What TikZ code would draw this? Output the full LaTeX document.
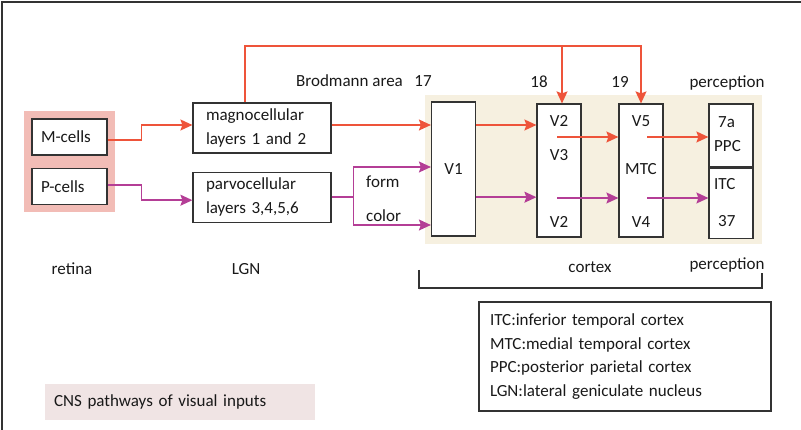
\documentclass[tikz,border=0pt]{standalone}
\usepackage{fontspec}
\setmainfont{Carlito}
\usetikzlibrary{arrows.meta,positioning,fit,backgrounds}
\definecolor{magnored}{RGB}{238,84,58}
\definecolor{parvopurple}{RGB}{180,62,150}
\definecolor{retinapink}{RGB}{242,188,182}
\definecolor{cortexbeige}{RGB}{246,240,224}
\definecolor{captionpink}{RGB}{240,228,228}
\definecolor{boxgray}{RGB}{51,51,51}

\begin{document}
\begin{tikzpicture}[
    x=1pt, y=-1pt,
    every node/.style={font=\fontsize{17}{20}\selectfont, text=black!90},
    node distance=12pt,
    cellbox/.style={rectangle,draw=boxgray,line width=1.2pt,fill=white,
      text width=57pt,inner xsep=9pt,minimum height=36pt,align=left},
    lgnbox/.style={rectangle,draw=boxgray,line width=1.2pt,fill=white,
      text width=112pt,inner xsep=13pt,minimum height=50pt,align=left,
      font=\fontsize{17}{24}\selectfont},
    areabox/.style={rectangle,draw=boxgray,line width=1.2pt,fill=white,
      minimum width=44pt,inner sep=0pt},
    tag/.style={inner sep=0pt,anchor=base},
    lefttag/.style={inner sep=0pt,anchor=base west},
    magline/.style={draw=magnored,line width=1.5pt},
    parvline/.style={draw=parvopurple,line width=1.5pt},
    magarrow/.style={magline,-{Stealth[length=12pt,width=11pt,inset=2pt]}},
    parvarrow/.style={parvline,-{Stealth[length=12pt,width=11pt,inset=2pt]}}
  ]
    \useasboundingbox (0,0) rectangle (801,430);
    \draw[boxgray,line width=1.2pt] (2,430) -- (2,2) -- (801,2);
    \fill[cortexbeige] (425,95) rectangle (762,244);

    % retina and LGN
    \node[cellbox] (mcells) at (69.5,137) {M-cells};
    \node[cellbox,below=12pt of mcells] (pcells) {P-cells};
    \begin{scope}[on background layer]
      \node[fill=retinapink,inner sep=7pt,fit=(mcells)(pcells)] (retinabg) {};
    \end{scope}
    \node[lgnbox] (magno) at (262,128) {magnocellular\\layers 1 and 2};
    \node[lgnbox,below=18pt of magno] (parvo) {parvocellular\\layers 3,4,5,6};

    % cortex areas
    \node[areabox,minimum height=134pt] (v1) at (453.5,169) {V1};
    \node[areabox,minimum height=133pt] (v2box) at (559,170.5) {};
    \node[areabox,minimum height=133pt] (v5box) at (641,170.5) {};
    \node[areabox,minimum height=63pt] (ppc) at (731,135.5) {};
    \node[areabox,minimum height=70pt,below=0pt of ppc] (itc) {};

    \node[tag] (v2top) at (559,127) {V2};
    \node[tag] (v3) at (559,161) {V3};
    \node[tag] (v2low) at (559,228) {V2};
    \node[tag] (v5) at (641,127) {V5};
    \node[tag] (mtc) at (641,175) {MTC};
    \node[tag] (v4) at (641,228) {V4};
    \node[lefttag] (area7a) at (718,128) {7a};
    \node[lefttag] (ppctext) at (714,152) {PPC};
    \node[lefttag] (itctext) at (714,190) {ITC};
    \node[lefttag] (area37) at (718,227) {37};

    % headings
    \node[lefttag] (brodmann) at (296,87) {Brodmann area};
    \node[tag] (a17) at (423,87) {17};
    \node[tag] (a18) at (539,88) {18};
    \node[tag] (a19) at (620,88) {19};
    \node[tag] (perctop) at (727,88) {perception};
    \node[lefttag] (form) at (366,188) {form};
    \node[lefttag] (color) at (366,222) {color};
    \node[tag] (retina) at (72,275) {retina};
    \node[tag] (lgn) at (246,275) {LGN};
    \node[tag] (cortex) at (590,273) {cortex};
    \node[tag] (percbot) at (727,270) {perception};
    \draw[boxgray,line width=1.2pt] (419,270) -- (419,288) -- (762,288) -- (762,273);

    % connectors
    \draw[magarrow] ([yshift=-3pt]mcells.east) -- ++(34,0) |- ([yshift=3pt]magno.west);
    \draw[parvarrow] ([yshift=1pt]pcells.east) -- ++(34,0) |- ([yshift=-3pt]parvo.west);
    \draw[magarrow] ([yshift=3pt]magno.east) -- ([yshift=3pt]magno.east -| v1.west);
    \coordinate[right=22pt of parvo.east] (split);
    \draw[parvline] (parvo.east) -- (split);
    \draw[parvarrow] (split) |- ([yshift=2pt]v1.west);
    \draw[parvarrow] (split) |- ([yshift=-56pt]v1.west);
    \draw[magarrow] ([yshift=3pt]v1.east |- magno.east) -- ([yshift=3pt]v2box.west |- magno.east);
    \draw[parvarrow] (v1.east |- parvo.east) -- (v2box.west |- parvo.east);
    \coordinate (m18) at (557,137);
    \coordinate (m19) at (647,137);
    \coordinate (p18) at (557,198);
    \coordinate (p19) at (647,198);
    \draw[magarrow] (m18) -- (m18 -| v5box.west);
    \draw[magarrow] (m19) -- (m19 -| ppc.west);
    \draw[parvarrow] (p18) -- (p18 -| v5box.west);
    \draw[parvarrow] (p19) -- (p19 -| itc.west);
    \coordinate (topbar) at (245,46);
    \draw[magarrow] ([xshift=-17pt]magno.north) |- (topbar -| v5box.north) -- (v5box.north);
    \draw[magarrow] ([xshift=3pt]topbar -| v2box.north) -- ([xshift=3pt]v2box.north);

    % legend and caption
    \node[rectangle,draw=boxgray,line width=1.2pt,minimum width=292pt,minimum height=109pt,
      text width=270pt,align=left,font=\fontsize{17}{23.5}\selectfont] (legend) at (625,356.5)
      {ITC:inferior temporal cortex\\MTC:medial temporal cortex\\PPC:posterior parietal cortex\\LGN:lateral geniculate nucleus};
    \node[rectangle,fill=captionpink,minimum width=270pt,minimum height=36pt,
      text width=252pt,inner xsep=9pt,align=left] (caption) at (180,402) {CNS pathways of visual inputs};
\end{tikzpicture}
\end{document}
